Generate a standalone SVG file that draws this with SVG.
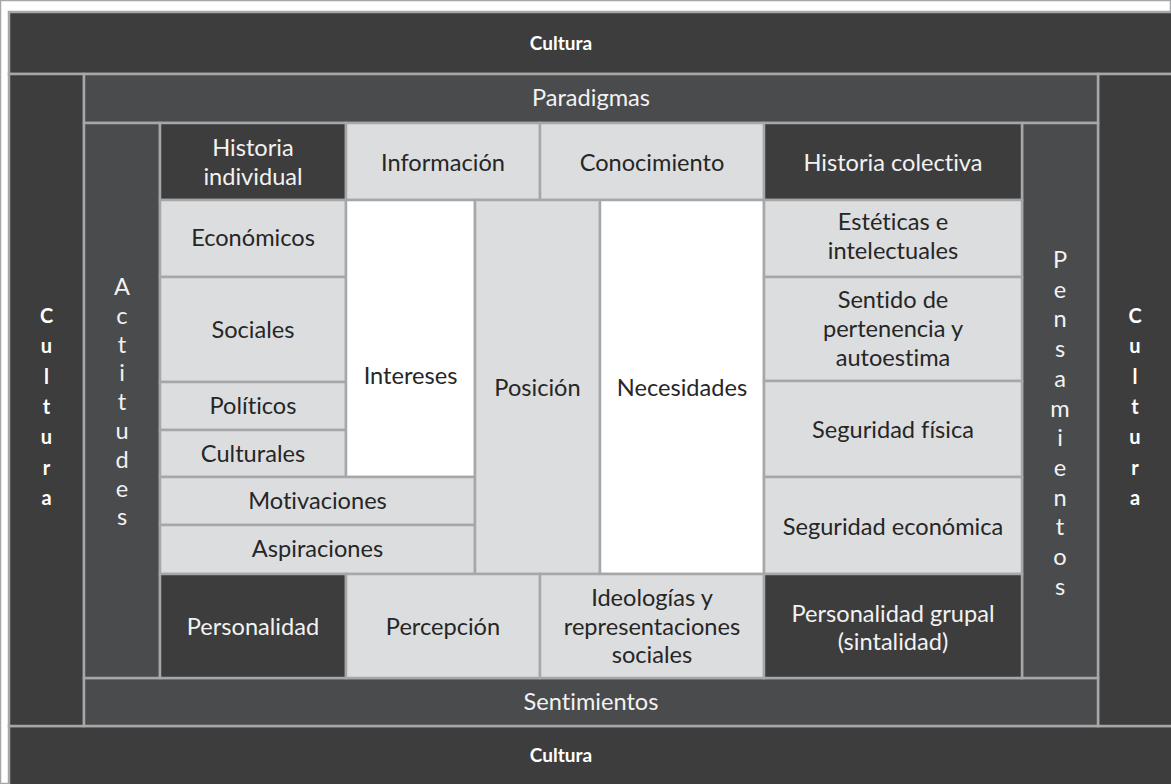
<svg xmlns="http://www.w3.org/2000/svg" width="1171" height="784" viewBox="0 0 1171 784">
  <style>
    rect { stroke: #a6a7a9; stroke-width: 2.5; }
    .dark { fill: #3d3d3d; }
    .mid { fill: #4a4b4d; }
    .light { fill: #dcdddf; }
    .white { fill: #ffffff; }
    text { font-family: Lato, "Open Sans", "Liberation Sans", sans-serif; font-size: 23.6px; font-weight: 400; text-anchor: middle; font-variant-ligatures: none; font-feature-settings: "liga" 0, "dlig" 0; }
    .on-dark { fill: #f2f2f2; }
    .on-light { fill: #262626; }
    .bold { font-weight: bold; font-size: 19px; fill: #ffffff; }
    .vbold { font-weight: bold; font-size: 20px; fill: #ffffff; }
  </style>
  <rect x="0" y="0" width="1171" height="784" fill="#ffffff" stroke="none"/>

  <!-- outer culture frame -->
  <g id="cultura-top"><rect class="dark" x="9" y="12" width="1170" height="62"/><text class="bold" x="561" y="50">Cultura</text></g>
  <g id="cultura-bottom"><rect class="dark" x="9" y="726" width="1170" height="70"/><text class="bold" x="561" y="762">Cultura</text></g>
  <g id="cultura-left"><rect class="dark" x="9" y="74" width="75" height="652"/>
    <text class="vbold"><tspan x="46.5" y="323">C</tspan><tspan x="46.5" y="353.3">u</tspan><tspan x="46.5" y="383.6">l</tspan><tspan x="46.5" y="413.9">t</tspan><tspan x="46.5" y="444.2">u</tspan><tspan x="46.5" y="474.5">r</tspan><tspan x="46.5" y="504.8">a</tspan></text></g>
  <g id="cultura-right"><rect class="dark" x="1098" y="74" width="80" height="652"/>
    <text class="vbold"><tspan x="1135" y="323">C</tspan><tspan x="1135" y="353.3">u</tspan><tspan x="1135" y="383.6">l</tspan><tspan x="1135" y="413.9">t</tspan><tspan x="1135" y="444.2">u</tspan><tspan x="1135" y="474.5">r</tspan><tspan x="1135" y="504.8">a</tspan></text></g>

  <!-- second frame -->
  <g id="paradigmas"><rect class="mid" x="84" y="74" width="1014" height="49"/><text class="on-dark" x="591" y="106">Paradigmas</text></g>
  <g id="sentimientos"><rect class="mid" x="84" y="678" width="1014" height="48"/><text class="on-dark" x="591" y="710">Sentimientos</text></g>
  <g id="actitudes"><rect class="mid" x="84" y="123" width="76" height="555"/>
    <text class="on-dark"><tspan x="122" y="295">A</tspan><tspan x="122" y="324">c</tspan><tspan x="122" y="353">t</tspan><tspan x="122" y="381">i</tspan><tspan x="122" y="410">t</tspan><tspan x="122" y="439">u</tspan><tspan x="122" y="468">d</tspan><tspan x="122" y="497">e</tspan><tspan x="122" y="525">s</tspan></text></g>
  <g id="pensamientos"><rect class="mid" x="1022" y="123" width="76" height="555"/>
    <text class="on-dark"><tspan x="1060" y="268">P</tspan><tspan x="1060" y="297.7">e</tspan><tspan x="1060" y="327.4">n</tspan><tspan x="1060" y="357.1">s</tspan><tspan x="1060" y="386.8">a</tspan><tspan x="1060" y="416.5">m</tspan><tspan x="1060" y="446.2">i</tspan><tspan x="1060" y="475.9">e</tspan><tspan x="1060" y="505.6">n</tspan><tspan x="1060" y="535.3">t</tspan><tspan x="1060" y="565">o</tspan><tspan x="1060" y="594.7">s</tspan></text></g>

  <!-- top row -->
  <g id="historia-individual"><rect class="dark" x="160" y="123" width="186" height="77"/>
    <text class="on-dark"><tspan x="253" y="156">Historia</tspan><tspan x="253" y="185">individual</tspan></text></g>
  <g id="informacion"><rect class="light" x="346" y="123" width="194" height="77"/><text class="on-light" x="443" y="171">Información</text></g>
  <g id="conocimiento"><rect class="light" x="540" y="123" width="224" height="77"/><text class="on-light" x="652" y="171">Conocimiento</text></g>
  <g id="historia-colectiva"><rect class="dark" x="764" y="123" width="258" height="77"/><text class="on-dark" x="893" y="171">Historia colectiva</text></g>

  <!-- left column: interests -->
  <g id="economicos"><rect class="light" x="160" y="200" width="186" height="77"/><text class="on-light" x="253" y="246">Económicos</text></g>
  <g id="sociales"><rect class="light" x="160" y="277" width="186" height="105"/><text class="on-light" x="253" y="338">Sociales</text></g>
  <g id="politicos"><rect class="light" x="160" y="382" width="186" height="48"/><text class="on-light" x="253" y="414">Políticos</text></g>
  <g id="culturales"><rect class="light" x="160" y="430" width="186" height="47"/><text class="on-light" x="253" y="462">Culturales</text></g>
  <g id="intereses"><rect class="white" x="346" y="200" width="129" height="277"/><text class="on-light" x="410.5" y="384">Intereses</text></g>
  <g id="motivaciones"><rect class="light" x="160" y="477" width="315" height="48"/><text class="on-light" x="317.5" y="509">Motivaciones</text></g>
  <g id="aspiraciones"><rect class="light" x="160" y="525" width="315" height="49"/><text class="on-light" x="317.5" y="557">Aspiraciones</text></g>

  <!-- center -->
  <g id="posicion"><rect class="light" x="475" y="200" width="125" height="374"/><text class="on-light" x="537.5" y="396">Posición</text></g>
  <g id="necesidades"><rect class="white" x="600" y="200" width="164" height="374"/><text class="on-light" x="682" y="396">Necesidades</text></g>

  <!-- right column: needs -->
  <g id="esteticas"><rect class="light" x="764" y="200" width="258" height="77"/>
    <text class="on-light"><tspan x="893" y="230">Estéticas e</tspan><tspan x="893" y="259">intelectuales</tspan></text></g>
  <g id="pertenencia"><rect class="light" x="764" y="277" width="258" height="104"/>
    <text class="on-light"><tspan x="893" y="308">Sentido de</tspan><tspan x="893" y="337">pertenencia y</tspan><tspan x="893" y="366">autoestima</tspan></text></g>
  <g id="seguridad-fisica"><rect class="light" x="764" y="381" width="258" height="96"/><text class="on-light" x="893" y="438">Seguridad física</text></g>
  <g id="seguridad-economica"><rect class="light" x="764" y="477" width="258" height="97"/><text class="on-light" x="893" y="535">Seguridad económica</text></g>

  <!-- bottom row -->
  <g id="personalidad"><rect class="dark" x="160" y="574" width="186" height="104"/><text class="on-dark" x="253" y="635">Personalidad</text></g>
  <g id="percepcion"><rect class="light" x="346" y="574" width="194" height="104"/><text class="on-light" x="443" y="635">Percepción</text></g>
  <g id="ideologias"><rect class="light" x="540" y="574" width="224" height="104"/>
    <text class="on-light"><tspan x="652" y="606">Ideologías y</tspan><tspan x="652" y="635">representaciones</tspan><tspan x="652" y="663">sociales</tspan></text></g>
  <g id="personalidad-grupal"><rect class="dark" x="764" y="574" width="258" height="104"/>
    <text class="on-dark"><tspan x="893" y="622">Personalidad grupal</tspan><tspan x="893" y="650">(sintalidad)</tspan></text></g>
</svg>
